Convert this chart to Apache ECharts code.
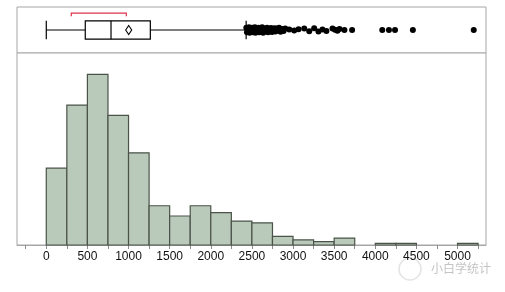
<!DOCTYPE html>
<html><head><meta charset="utf-8">
<script src="https://cdn.jsdelivr.net/npm/echarts@6/dist/echarts.min.js"></script>
<style>html,body{margin:0;padding:0;background:#fff}#c{width:505px;height:292px}</style>
</head><body><div id="c"></div>
<script>
// ---- data ----
const binStarts = [0,250,500,750,1000,1250,1500,1750,2000,2250,2500,2750,3000,3250,3500,3750,4000,4250,4500,4750,5000];
const binWidth = 250;
const counts = [45,82,100,76,54,23,17,23,19,14,13,5,3,2,4,0,1,1,0,0,1];
const boxStats = [0, 474, 787, 1265, 2430]; // lower whisker, Q1, median, Q3, upper whisker
const meanValue = 1002;
const shortestHalf = [304, 973];
const outliers = [2432,2440,2448,2456,2464,2472,2480,2488,2496,2504,2512,2520,2528,2536,2544,2552,2560,2570,2580,2590,2600,2612,2624,2636,2648,2660,2672,2684,2696,2708,2720,2732,2745,2758,2772,2786,2800,2815,2830,2848,2866,2885,2905,2954,3014,3067,3136,3197,3257,3309,3358,3406,3480,3510,3540,3565,3625,3718,4085,4166,4240,4457,5197];
const outlierJitter = [0.1,-0.1,0.04,-0.04,0.12,-0.12,0.07,-0.07,0,0.1,-0.1,0.04,-0.04,0.12,-0.12,0.07,-0.07,0,0.1,-0.1,0.04,-0.04,0.12,-0.12,0.07,-0.07,0,0.1,-0.1,0.05,-0.05,0.09,-0.09,0.03,0.08,-0.06,0.06,-0.02,0.1,-0.08,0.04,-0.04,0.06,0.02,-0.02,0.03,0.07,-0.05,0.08,-0.07,0.02,-0.04,0.06,0.01,-0.03,0.04,0,0,0,0,0,0,0];
const labelTicks = [0,500,1000,1500,2000,2500,3000,3500,4000,4500,5000];
const minorTicks = [-250,0,250,500,750,1000,1250,1500,1750,2000,2250,2500,2750,3000,3250,3500,3750,4000,4250,4500,4750,5000,5250];
const xMin = -356, xMax = 5346;

const chart = echarts.init(document.getElementById('c'), null, {renderer:'canvas'});
const histData = binStarts.map((s,i)=>[s, counts[i]]);
const option = {
  animation:false,
  grid:[
    {left:17,right:19,top:7,height:46,show:true,borderColor:'#a6a6a6',borderWidth:1,backgroundColor:'#fff'},
    {left:17,right:19,top:53,bottom:47,show:true,borderColor:'#a6a6a6',borderWidth:1,backgroundColor:'#fff'}
  ],
  xAxis:[
    {gridIndex:0,type:'value',min:xMin,max:xMax,show:false},
    {gridIndex:1,type:'value',min:xMin,max:xMax,
      axisLine:{show:true,lineStyle:{color:'#a6a6a6',width:1}},
      axisTick:{show:true,length:4,lineStyle:{color:'#8c8c8c'},customValues:minorTicks},
      axisLabel:{show:true,customValues:labelTicks,margin:6,color:'#111',fontFamily:'Liberation Sans',fontSize:12,
        formatter:function(v){return String(v);}},
      splitLine:{show:false}}
  ],
  yAxis:[
    {gridIndex:0,type:'value',min:-1,max:1,show:false},
    {gridIndex:1,type:'value',min:0,max:112.5,show:false}
  ],
  series:[
    {type:'custom',xAxisIndex:1,yAxisIndex:1,data:histData,
      renderItem:function(params,api){
        const x0=api.value(0), c=api.value(1);
        if(!c) return null;
        const p0=api.coord([x0,0]), p1=api.coord([x0+binWidth,c]);
        return {type:'rect',shape:{x:p0[0],y:p1[1],width:p1[0]-p0[0],height:p0[1]-p1[1]},
          style:{fill:'#b9cabb',stroke:'#4b5349',lineWidth:1.2}};
      }},
    {type:'custom',xAxisIndex:0,yAxisIndex:0,data:[[0]],
      renderItem:function(params,api){
        const c=(v,y)=>api.coord([v,y]);
        const lo=c(boxStats[0],0), q1t=c(boxStats[1],0.4), q3b=c(boxStats[3],-0.4), hi=c(boxStats[4],0);
        const capT=c(boxStats[0],0.4), capB=c(boxStats[0],-0.4);
        const capT2=c(boxStats[4],0.4), capB2=c(boxStats[4],-0.4);
        const mT=c(boxStats[2],0.4), mB=c(boxStats[2],-0.4);
        const q1m=c(boxStats[1],0), q3m=c(boxStats[3],0);
        const mean=c(meanValue,0);
        const sh0=c(shortestHalf[0],0.73), sh1=c(shortestHalf[1],0.73), shE=c(shortestHalf[0],0.6);
        const ls={stroke:'#000',lineWidth:1.2,fill:null};
        return {type:'group',children:[
          {type:'line',shape:{x1:lo[0],y1:lo[1],x2:q1m[0],y2:q1m[1]},style:ls},
          {type:'line',shape:{x1:q3m[0],y1:q3m[1],x2:hi[0],y2:hi[1]},style:ls},
          {type:'line',shape:{x1:capT[0],y1:capT[1],x2:capB[0],y2:capB[1]},style:ls},
          {type:'line',shape:{x1:capT2[0],y1:capT2[1],x2:capB2[0],y2:capB2[1]},style:ls},
          {type:'rect',shape:{x:q1t[0],y:q1t[1],width:q3b[0]-q1t[0],height:q3b[1]-q1t[1]},style:{stroke:'#000',lineWidth:1.2,fill:'#fff'}},
          {type:'line',shape:{x1:mT[0],y1:mT[1],x2:mB[0],y2:mB[1]},style:ls},
          {type:'polygon',shape:{points:[[mean[0],mean[1]-4.5],[mean[0]+3,mean[1]],[mean[0],mean[1]+4.5],[mean[0]-3,mean[1]]]},style:{stroke:'#000',lineWidth:1.1,fill:'#fff'}},
          {type:'polyline',shape:{points:[[sh0[0],shE[1]],[sh0[0],sh0[1]],[sh1[0],sh1[1]],[sh1[0],shE[1]]]},style:{stroke:'#e0304a',lineWidth:1.2,fill:null}}
        ]};
      }},
    {type:'scatter',xAxisIndex:0,yAxisIndex:0,symbol:'circle',symbolSize:6,
      itemStyle:{color:'#000',opacity:1},
      data:outliers.map((v,i)=>[v,outlierJitter[i]])}
  ],
  graphic:[
    {type:'circle',shape:{cx:410,cy:269,r:11},style:{fill:null,stroke:'#e4e4e4',lineWidth:1.5},silent:true},
    {type:'text',left:431,top:262,style:{text:'小白学统计',fill:'#c4c4c4',font:'12px "Noto Sans CJK SC"'},silent:true}
  ]
};
chart.setOption(option);
</script></body></html>
